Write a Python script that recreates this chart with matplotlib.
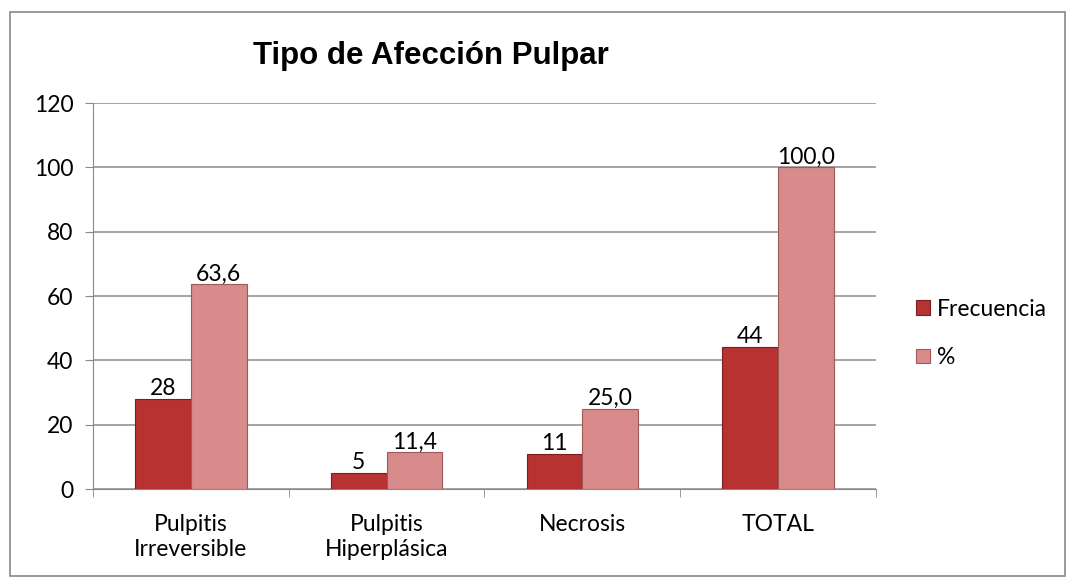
import numpy as np
import matplotlib.pyplot as plt
from matplotlib.patches import Rectangle

categories = ["Pulpitis\nIrreversible", "Pulpitis\nHiperplásica", "Necrosis", "TOTAL"]
frecuencia = [28, 5, 11, 44]
porcentaje = [63.6, 11.4, 25.0, 100.0]
series_names = ["Frecuencia", "%"]

plt.rcParams['font.family'] = ['Lato', 'DejaVu Sans']

fig = plt.figure(figsize=(10.7, 5.81), dpi=100)
ax = fig.add_axes([0.0869, 0.1583, 0.7318, 0.6644])

# Outer chart border
fig.patches.append(Rectangle((0.0093, 0.008), 0.986, 0.971, transform=fig.transFigure,
                             fill=False, edgecolor='#888888', linewidth=1.2))

x = np.arange(len(categories))
width = 0.285
c1, e1 = '#B83232', '#7a1f1f'
c2, e2 = '#D98A8A', '#9c5a5a'
bars1 = ax.bar(x - width / 2, frecuencia, width, color=c1, edgecolor=e1, linewidth=0.8,
               label=series_names[0], zorder=3)
bars2 = ax.bar(x + width / 2, porcentaje, width, color=c2, edgecolor=e2, linewidth=0.8,
               label=series_names[1], zorder=3)

# Data labels
for b, v in zip(bars1, frecuencia):
    ax.text(b.get_x() + b.get_width() / 2, v, str(v), ha='center', va='bottom', fontsize=16.5)
for b, v in zip(bars2, porcentaje):
    ax.text(b.get_x() + b.get_width() / 2, v, f"{v:.1f}".replace('.', ','),
            ha='center', va='bottom', fontsize=16.5)

ax.set_xlim(-0.5, len(categories) - 0.5)
ax.set_ylim(0, 120)
ax.set_yticks(range(0, 121, 20))
ax.tick_params(axis='y', labelsize=16.5, length=6, color='#888888', pad=8)
ax.set_xticks(x)
ax.set_xticklabels(categories, fontsize=16.5, linespacing=1.25)
ax.tick_params(axis='x', length=0, pad=18)
ax.set_xticks(np.arange(-0.5, len(categories)), minor=True)
ax.tick_params(axis='x', which='minor', length=6, color='#888888')

ax.yaxis.grid(True, color='#8c8c8c', linewidth=1.1, zorder=0)
ax.set_axisbelow(True)
for s in ['top', 'right']:
    ax.spines[s].set_visible(False)
ax.spines['left'].set_color('#888888')
ax.spines['bottom'].set_color('#888888')

fig.text(0.403, 0.903, "Tipo de Afección Pulpar", ha='center', va='center',
         fontsize=22.5, fontweight='bold', family='Liberation Sans')

leg = fig.legend(handles=[bars1, bars2], labels=series_names, loc='center left',
                 bbox_to_anchor=(0.837, 0.426), frameon=False, fontsize=16.5,
                 handlelength=0.6, handleheight=0.6, handletextpad=0.3, labelspacing=1.2)

fig.savefig("out.png", dpi=100)
